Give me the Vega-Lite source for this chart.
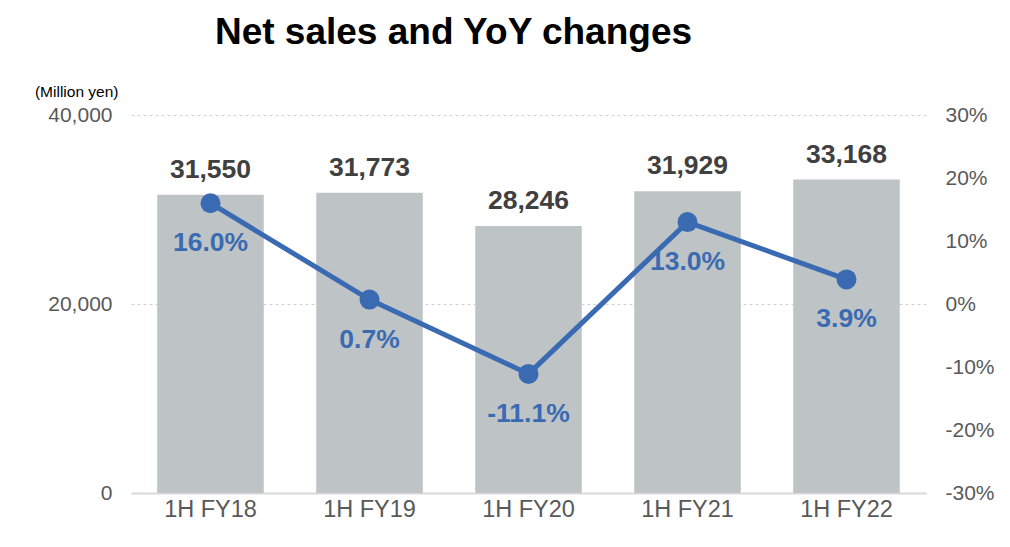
{
  "$schema": "https://vega.github.io/schema/vega-lite/v6.json",
  "width": 795,
  "height": 378,
  "autosize": {"type": "none"},
  "padding": {"left": 131, "top": 115, "right": 84, "bottom": 54},
  "background": "white",
  "config": {
    "view": {"stroke": null},
    "font": "Liberation Sans",
    "axis": {"labelFont": "Liberation Sans", "titleFont": "Liberation Sans"}
  },
  "title": {
    "text": "Net sales and YoY changes",
    "font": "Liberation Sans",
    "fontSize": 37,
    "fontWeight": "bold",
    "color": "#000000",
    "anchor": "middle",
    "dx": -75,
    "baseline": "alphabetic",
    "offset": 3
  },
  "data": {
    "values": [
      {"period": "1H FY18", "sales": 31550, "yoy": 16.0},
      {"period": "1H FY19", "sales": 31773, "yoy": 0.7},
      {"period": "1H FY20", "sales": 28246, "yoy": -11.1},
      {"period": "1H FY21", "sales": 31929, "yoy": 13.0},
      {"period": "1H FY22", "sales": 33168, "yoy": 3.9}
    ]
  },
  "encoding": {
    "x": {
      "field": "period",
      "type": "nominal",
      "sort": null,
      "scale": {"paddingInner": 0.33, "paddingOuter": 0.165},
      "axis": {
        "title": null,
        "labelAngle": 0,
        "labelFontSize": 23.5,
        "labelColor": "#595959",
        "labelPadding": 4,
        "ticks": false,
        "domainColor": "#d9d9d9",
        "domainWidth": 2
      }
    }
  },
  "layer": [
    {
      "layer": [
        {
          "mark": {"type": "bar", "color": "#BEC3C6"},
          "encoding": {
            "y": {
              "field": "sales",
              "type": "quantitative",
              "scale": {"domain": [0, 40000], "nice": false},
              "axis": {
                "orient": "left",
                "values": [0, 20000, 40000],
                "labelExpr": "format(datum.value, ',')",
                "labelFontSize": 21,
                "labelColor": "#595959",
                "labelPadding": 19,
                "ticks": false,
                "domain": false,
                "grid": true,
                "gridDash": [3, 3],
                "gridColor": "#d0d0d0",
                "title": "(Million yen)",
                "titleAngle": 0,
                "titleFontSize": 15.5,
                "titleFontWeight": "normal",
                "titleColor": "#000000",
                "titleAlign": "right",
                "titleBaseline": "alphabetic",
                "titleX": -13,
                "titleY": -19
              }
            }
          }
        },
        {
          "mark": {"type": "text", "fontSize": 26.5, "fontWeight": "bold", "color": "#404040", "baseline": "alphabetic", "dy": -17},
          "encoding": {
            "y": {"field": "sales", "type": "quantitative"},
            "text": {"field": "sales", "type": "quantitative", "format": ","}
          }
        }
      ]
    },
    {
      "layer": [
        {
          "mark": {"type": "line", "color": "#3A6BB2", "strokeWidth": 5},
          "encoding": {
            "y": {
              "field": "yoy",
              "type": "quantitative",
              "scale": {"domain": [-30, 30], "nice": false},
              "axis": {
                "orient": "right",
                "values": [-30, -20, -10, 0, 10, 20, 30],
                "labelExpr": "datum.value + '%'",
                "labelFontSize": 21,
                "labelColor": "#595959",
                "labelPadding": 19,
                "ticks": false,
                "domain": false,
                "grid": false,
                "title": null
              }
            }
          }
        },
        {
          "mark": {"type": "point", "filled": true, "opacity": 1, "color": "#3A6BB2", "size": 400},
          "encoding": {
            "y": {"field": "yoy", "type": "quantitative"}
          }
        },
        {
          "transform": [
            {"calculate": "replace(format(datum.yoy, '.1f'), '\u2212', '-') + '%'", "as": "yoy_label"}
          ],
          "mark": {"type": "text", "fontSize": 26.5, "fontWeight": "bold", "color": "#3A6BB2", "baseline": "alphabetic", "dy": 48},
          "encoding": {
            "y": {"field": "yoy", "type": "quantitative"},
            "text": {"field": "yoy_label", "type": "nominal"}
          }
        }
      ]
    }
  ],
  "resolve": {"scale": {"y": "independent"}}
}
